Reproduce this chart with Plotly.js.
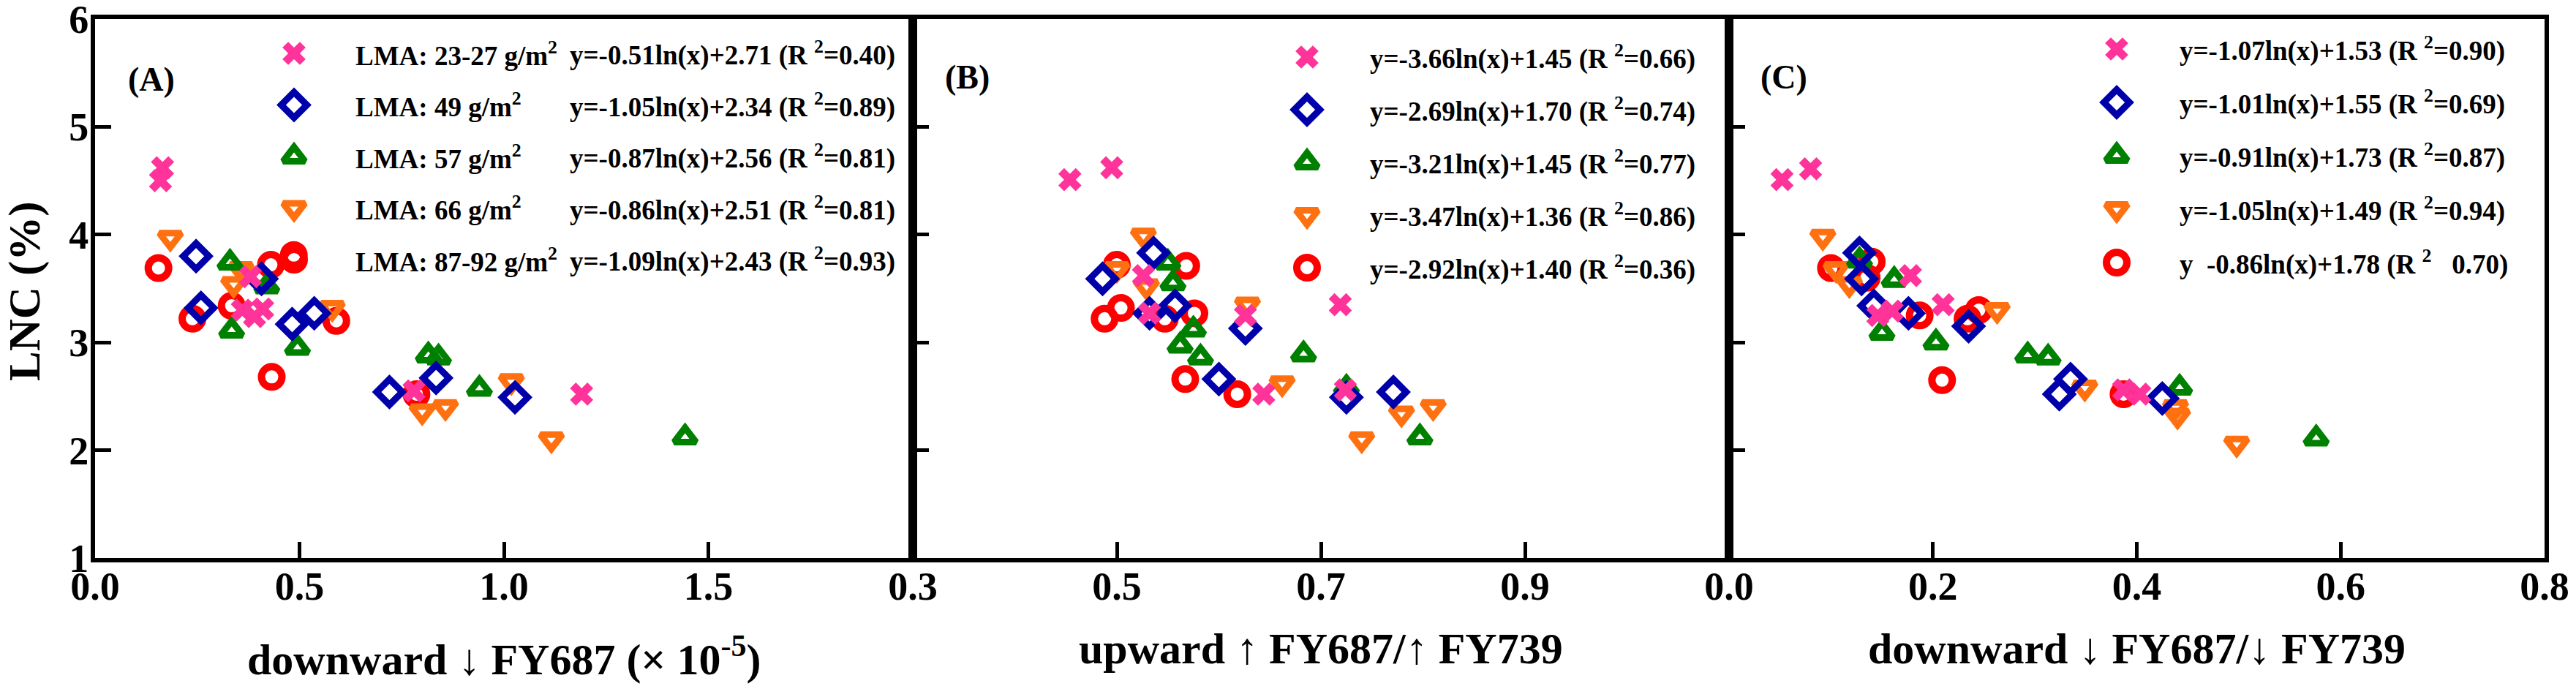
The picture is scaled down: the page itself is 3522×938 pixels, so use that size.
<!DOCTYPE html>
<html><head><meta charset="utf-8">
<script src="https://cdn.plot.ly/plotly-3.0.1.min.js"></script>
<style>html,body{margin:0;padding:0;background:#fff;}#chart{width:3522px;height:938px;}</style>
</head><body><div id="chart"></div>
<script>
// ================= DATA =================
// Series (LMA classes), legend order
const seriesLabels = ['LMA: 23-27 g/m<sup>2</sup>', 'LMA: 49 g/m<sup>2</sup>', 'LMA: 57 g/m<sup>2</sup>', 'LMA: 66 g/m<sup>2</sup>', 'LMA: 87-92 g/m<sup>2</sup>'];

// Panel A: downward FY687 (x 10^-5) vs LNC (%)
const A_x_lma23 = [0.165, 0.160, 0.38, 0.36, 0.41, 0.39, 0.78, 1.19];
const A_y_lma23 = [4.62, 4.50, 3.61, 3.30, 3.31, 3.24, 2.55, 2.52];
const A_x_lma49 = [0.247, 0.259, 0.407, 0.482, 0.536, 0.72, 0.834, 1.027];
const A_y_lma49 = [3.80, 3.32, 3.59, 3.17, 3.27, 2.54, 2.67, 2.49];
const A_x_lma57 = [0.33, 0.42, 0.334, 0.495, 0.815, 0.84, 0.94, 1.443];
const A_y_lma57 = [3.74, 3.52, 3.11, 2.95, 2.88, 2.86, 2.57, 2.12];
const A_x_lma66 = [0.184, 0.357, 0.339, 0.58, 0.80, 0.857, 1.018, 1.116];
const A_y_lma66 = [3.97, 3.68, 3.54, 3.32, 2.36, 2.40, 2.64, 2.10];
const A_x_lma87 = [0.155, 0.486, 0.43, 0.238, 0.334, 0.59, 0.432, 0.786];
const A_y_lma87 = [3.69, 3.81, 3.72, 3.22, 3.34, 3.20, 2.68, 2.52];

// Panel B: upward FY687/FY739 vs LNC (%)
const B_x_lma23 = [0.454, 0.495, 0.526, 0.532, 0.626, 0.719, 0.644, 0.724];
const B_y_lma23 = [4.51, 4.62, 3.62, 3.27, 3.25, 3.35, 2.52, 2.56];
const B_x_lma49 = [0.536, 0.486, 0.557, 0.532, 0.626, 0.600, 0.725, 0.771];
const B_y_lma49 = [3.83, 3.59, 3.34, 3.27, 3.13, 2.66, 2.49, 2.54];
const B_x_lma57 = [0.550, 0.555, 0.575, 0.562, 0.582, 0.683, 0.725, 0.797];
const B_y_lma57 = [3.74, 3.55, 3.12, 2.97, 2.86, 2.89, 2.58, 2.12];
const B_x_lma66 = [0.526, 0.500, 0.529, 0.628, 0.662, 0.779, 0.810, 0.740];
const B_y_lma66 = [3.99, 3.68, 3.52, 3.35, 2.62, 2.34, 2.40, 2.10];
const B_x_lma87 = [0.500, 0.568, 0.488, 0.504, 0.576, 0.547, 0.567, 0.618];
const B_y_lma87 = [3.72, 3.71, 3.22, 3.32, 3.27, 3.22, 2.66, 2.52];

// Panel C: downward FY687/FY739 vs LNC (%)
const C_x_lma23 = [0.052, 0.080, 0.178, 0.146, 0.160, 0.210, 0.387, 0.403];
const C_y_lma23 = [4.51, 4.61, 3.62, 3.25, 3.29, 3.35, 2.56, 2.52];
const C_x_lma49 = [0.128, 0.130, 0.142, 0.176, 0.235, 0.335, 0.324, 0.425];
const C_y_lma49 = [3.83, 3.59, 3.34, 3.27, 3.15, 2.66, 2.52, 2.48];
const C_x_lma57 = [0.128, 0.162, 0.150, 0.203, 0.293, 0.313, 0.442, 0.576];
const C_y_lma57 = [3.76, 3.58, 3.09, 3.00, 2.88, 2.86, 2.58, 2.11];
const C_x_lma66 = [0.092, 0.105, 0.118, 0.263, 0.349, 0.438, 0.440, 0.498];
const C_y_lma66 = [3.98, 3.68, 3.54, 3.30, 2.58, 2.40, 2.32, 2.06];
const C_x_lma87 = [0.100, 0.140, 0.135, 0.245, 0.187, 0.234, 0.209, 0.387];
const C_y_lma87 = [3.69, 3.75, 3.60, 3.30, 3.25, 3.22, 2.65, 2.52];

// Fitted equations shown in legends
const eqA = ['y=-0.51ln(x)+2.71 (R <sup>2</sup>=0.40)', 'y=-1.05ln(x)+2.34 (R <sup>2</sup>=0.89)', 'y=-0.87ln(x)+2.56 (R <sup>2</sup>=0.81)', 'y=-0.86ln(x)+2.51 (R <sup>2</sup>=0.81)', 'y=-1.09ln(x)+2.43 (R <sup>2</sup>=0.93)'];
const eqB = ['y=-3.66ln(x)+1.45 (R <sup>2</sup>=0.66)', 'y=-2.69ln(x)+1.70 (R <sup>2</sup>=0.74)', 'y=-3.21ln(x)+1.45 (R <sup>2</sup>=0.77)', 'y=-3.47ln(x)+1.36 (R <sup>2</sup>=0.86)', 'y=-2.92ln(x)+1.40 (R <sup>2</sup>=0.36)'];
const eqC = ['y=-1.07ln(x)+1.53 (R <sup>2</sup>=0.90)', 'y=-1.01ln(x)+1.55 (R <sup>2</sup>=0.69)', 'y=-0.91ln(x)+1.73 (R <sup>2</sup>=0.87)', 'y=-1.05ln(x)+1.49 (R <sup>2</sup>=0.94)', 'y\u00a0\u00a0-0.86ln(x)+1.78 (R <sup>2</sup>\u00a0\u00a0 0.70)'];

// Axis ticks / titles
const xTicksA = [0, 0.5, 1.0, 1.5];
const xTicksB = [0.3, 0.5, 0.7, 0.9];
const xTicksC = [0, 0.2, 0.4, 0.6, 0.8];
const yTicks = [1, 2, 3, 4, 5, 6];
const xTitles = ['downward \u2193 FY687 (\u00d7 10<sup>-5</sup>)', 'upward \u2191 FY687/\u2191 FY739', 'downward \u2193 FY687/\u2193 FY739'];
const yTitle = 'LNC (%)';
const panelTags = ['(A)', '(B)', '(C)'];

// ================= STYLE / LAYOUT =================
const W = 3522, H = 938;
const M = {l: 130, r: 43, t: 26, b: 175};
const plotW = W - M.l - M.r, plotH = H - M.t - M.b;
const panelPx = [[0, 1118], [1118, 2234], [2234, plotW]];
const FONT = '"Liberation Serif", "Times New Roman", serif';
const xTitleCenterPx = [897, 887, 887];   // vertical centre (page px) of each x title box
const yTitleCenterPx = [34, 398];         // page px of y title centre

const styles = [
  {symbol: 'x', color: '#FF3399', size: 28, lw: 0},
  {symbol: 'diamond-open', color: '#0000AA', size: 27, lw: 9},
  {symbol: 'triangle-up-open', color: '#008000', size: 26, lw: 9},
  {symbol: 'triangle-down-open', color: '#FF7010', size: 26, lw: 9},
  {symbol: 'circle-open', color: '#FF0000', size: 28, lw: 10}
];
const drawOrder = [4, 3, 2, 1, 0];

const panelData = [
  {xs: [A_x_lma23, A_x_lma49, A_x_lma57, A_x_lma66, A_x_lma87], ys: [A_y_lma23, A_y_lma49, A_y_lma57, A_y_lma66, A_y_lma87], range: [0, 2], ticks: xTicksA, eq: eqA},
  {xs: [B_x_lma23, B_x_lma49, B_x_lma57, B_x_lma66, B_x_lma87], ys: [B_y_lma23, B_y_lma49, B_y_lma57, B_y_lma66, B_y_lma87], range: [0.3, 1.1], ticks: xTicksB, eq: eqB},
  {xs: [C_x_lma23, C_x_lma49, C_x_lma57, C_x_lma66, C_x_lma87], ys: [C_y_lma23, C_y_lma49, C_y_lma57, C_y_lma66, C_y_lma87], range: [0, 0.8], ticks: xTicksC, eq: eqC}
];

// legend layout (px offsets from each panel's top-left corner)
const legendCfg = [
  {keyX: 272, labelX: 354, eqX: 647, row0: 47, gap: 70.5, tagX: 77, tagY: 82},
  {keyX: 539, labelX: null, eqX: 623, row0: 52, gap: 72, tagX: 74, tagY: 79},
  {keyX: 530, labelX: null, eqX: 614, row0: 41, gap: 73, tagX: 75, tagY: 79}
];
const legendFontSize = 37;

const traces = [];
const annotations = [];
const layout = {
  width: W, height: H, margin: M, paper_bgcolor: '#fff', plot_bgcolor: 'rgba(0,0,0,0)',
  showlegend: false, font: {family: FONT, color: '#000'}
};

const axisBase = {
  showline: true, linewidth: 6, linecolor: '#000', mirror: true,
  ticks: 'inside', ticklen: 22, tickwidth: 5, tickcolor: '#000',
  showgrid: false, zeroline: false, fixedrange: true, ticklabeloverflow: 'allow',
  tickfont: {family: FONT, size: 54, weight: 'bold', color: '#000'}
};

const pxToPaperX = px => (px - M.l) / plotW;
const pxToPaperY = py => (H - M.b - py) / plotH;

panelData.forEach((pd, p) => {
  const sfx = p === 0 ? '' : String(p + 1);
  const xa = 'x' + sfx, ya = 'y' + sfx;
  const d0 = panelPx[p][0] / plotW, d1 = panelPx[p][1] / plotW;
  layout['xaxis' + sfx] = Object.assign({}, axisBase, {
    domain: [d0, d1], range: pd.range, anchor: ya,
    tickmode: 'array', tickvals: pd.ticks, ticktext: pd.ticks.map(v => v.toFixed(1)),
    ticklabelstandoff: -14
  });
  layout['yaxis' + sfx] = Object.assign({}, axisBase, {
    domain: [0, 1], range: [1, 6], anchor: xa,
    tickmode: 'array', tickvals: yTicks, ticktext: yTicks.map(String),
    showticklabels: p === 0, ticklabelstandoff: -8
  });

  // x-axis title (as paper annotation for exact placement)
  annotations.push({xref: 'paper', yref: 'paper', x: (d0 + d1) / 2, y: pxToPaperY(xTitleCenterPx[p]),
    text: xTitles[p], showarrow: false, xanchor: 'center', yanchor: 'middle',
    font: {family: FONT, size: 60, weight: 'bold', color: '#000'}});

  // data markers
  drawOrder.forEach(s => {
    const st = styles[s];
    traces.push({
      type: 'scatter', mode: 'markers', x: pd.xs[s], y: pd.ys[s], xaxis: xa, yaxis: ya,
      name: seriesLabels[s], hoverinfo: 'skip', cliponaxis: false,
      marker: {symbol: st.symbol, color: st.color, size: st.size, line: {width: st.lw, color: st.color}}
    });
  });

  // legend key axes (pixel units, overlaying the panel)
  const lx = 'x' + (p + 4), ly = 'y' + (p + 4);
  layout['xaxis' + (p + 4)] = {overlaying: xa, anchor: ly, range: [0, panelPx[p][1] - panelPx[p][0]], visible: false, fixedrange: true};
  layout['yaxis' + (p + 4)] = {overlaying: ya, anchor: lx, range: [plotH, 0], visible: false, fixedrange: true};
  const cfg = legendCfg[p];
  seriesLabels.forEach((lab, s) => {
    const st = styles[s];
    const ry = cfg.row0 + s * cfg.gap;
    traces.push({
      type: 'scatter', mode: 'markers', x: [cfg.keyX], y: [ry], xaxis: lx, yaxis: ly,
      hoverinfo: 'skip', cliponaxis: false,
      marker: {symbol: st.symbol, color: st.color, size: st.size, line: {width: st.lw, color: st.color}}
    });
    if (cfg.labelX !== null) {
      annotations.push({xref: lx, yref: ly, x: cfg.labelX, y: ry, text: lab, showarrow: false, xanchor: 'left', yanchor: 'middle',
        font: {family: FONT, size: legendFontSize, weight: 'bold', color: '#000'}});
    }
    annotations.push({xref: lx, yref: ly, x: cfg.eqX, y: ry, text: pd.eq[s], showarrow: false, xanchor: 'left', yanchor: 'middle',
      font: {family: FONT, size: legendFontSize, weight: 'bold', color: '#000'}});
  });
  annotations.push({xref: lx, yref: ly, x: cfg.tagX, y: cfg.tagY, text: panelTags[p], showarrow: false, xanchor: 'center', yanchor: 'middle',
    font: {family: FONT, size: 46, weight: 'bold', color: '#000'}});
});

// y-axis title
annotations.push({xref: 'paper', yref: 'paper', x: pxToPaperX(yTitleCenterPx[0]), y: pxToPaperY(yTitleCenterPx[1]),
  text: yTitle, textangle: -90, showarrow: false, xanchor: 'center', yanchor: 'middle',
  font: {family: FONT, size: 61, weight: 'bold', color: '#000'}});

layout.annotations = annotations;

Plotly.newPlot('chart', traces, layout, {staticPlot: true, displayModeBar: false});
</script></body></html>
